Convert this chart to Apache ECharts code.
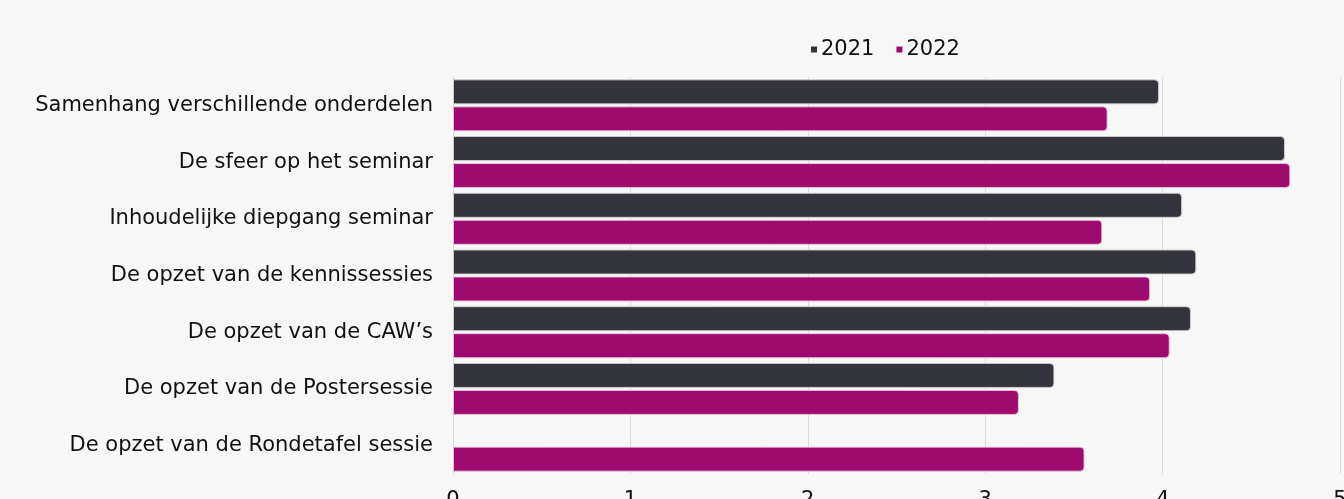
<!DOCTYPE html>
<html>
<head>
<meta charset="utf-8">
<script src="https://cdn.jsdelivr.net/npm/echarts@6/dist/echarts.min.js"></script>
<style>
  html, body { margin: 0; padding: 0; background: #f7f7f7; overflow: hidden; }
  #chart { width: 1344px; height: 499px; }
</style>
</head>
<body>
<div id="chart"></div>
<script>
// onderdelen van het seminar
var categories = [
  'Samenhang verschillende onderdelen',
  'De sfeer op het seminar',
  'Inhoudelijke diepgang seminar',
  'De opzet van de kennissessies',
  'De opzet van de CAW\u2019s',
  'De opzet van de Postersessie',
  'De opzet van de Rondetafel sessie'
];
// gemiddelde scores
var scores2021 = [3.98, 4.69, 4.11, 4.19, 4.16, 3.39, null];
var scores2022 = [3.69, 4.72, 3.66, 3.93, 4.04, 3.19, 3.56];
var xTicks = [0, 1, 2, 3, 4, 5];

var myChart = echarts.init(document.getElementById('chart'));
var font = '"DejaVu Sans", sans-serif';

var option = {
  backgroundColor: '#f7f7f7',
  animation: false,
  color: ['#33343c', '#9e0a6e'],
  legend: {
    top: 34,
    left: 806,
    itemWidth: 6,
    itemHeight: 6,
    itemGap: 22,
    icon: 'rect',
    itemStyle: { borderWidth: 0 },
    textStyle: { color: '#111', fontSize: 21, fontFamily: font, padding: [0, 0, 0, -1] },
    data: ['2021', '2022']
  },
  grid: {
    left: 453,
    right: 4,
    top: 77,
    bottom: 25,
    outerBoundsMode: 'none',
    containLabel: false
  },
  xAxis: {
    type: 'value',
    min: xTicks[0],
    max: xTicks[xTicks.length - 1],
    interval: 1,
    axisLine: { show: false },
    axisTick: { show: false },
    axisLabel: { color: '#111', fontSize: 21, margin: 16, fontFamily: font },
    splitLine: { lineStyle: { color: '#dcdcdc', width: 1 } }
  },
  yAxis: {
    type: 'category',
    inverse: true,
    data: categories,
    axisLine: { show: false },
    axisTick: { show: false },
    axisLabel: { color: '#111', fontSize: 21, margin: 20, fontFamily: font }
  },
  series: [
    {
      name: '2021',
      type: 'bar',
      data: scores2021,
      barWidth: 25,
      barGap: '8%',
      itemStyle: {
        borderRadius: [0, 4, 4, 0],
        borderColor: 'rgba(210,210,210,0.9)',
        borderWidth: 1
      }
    },
    {
      name: '2022',
      type: 'bar',
      data: scores2022,
      barWidth: 25,
      barGap: '8%',
      itemStyle: {
        borderRadius: [0, 4, 4, 0],
        borderColor: 'rgba(230,200,220,0.9)',
        borderWidth: 1
      }
    }
  ]
};

myChart.setOption(option);
</script>
</body>
</html>
